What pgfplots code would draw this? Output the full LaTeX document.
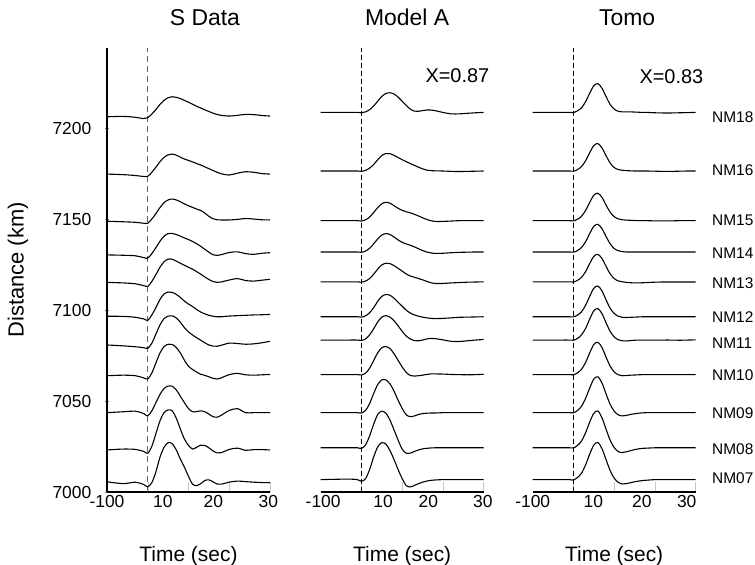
\documentclass[border=0pt]{standalone}
\usepackage{fontspec}
\setmainfont{Liberation Sans}
\usepackage{pgfplots}
\usepackage{pgfplotstable}
\pgfplotsset{compat=1.18}

\newcommand{\fs}[1]{\fontsize{#1}{#1}\selectfont}

% S data (amplitude in km above each trace baseline)
\pgfplotstableread{
t    a18  a16  a15  a14  a13  a12  a11  a10  a09  a08  a07
-10  0    0    0.3  0.5  0.5  0.3  1    0    0    0    0.5
-6   0.2  -0.3 0    0.3  0.2  0.2  0.5  0.3  0.5  0.5  -0.5
-3   -0.3 -0.8 -0.3 0    -0.3 -0.3 0    0    0.8  0.3  0.3
-1   -1.0 -1.3 -0.8 -1.0 -1.3 -1.2 -0.5 -1.2 -0.5 -0.8 -1
0    -0.5 -1.2 -0.8 -1.3 -1.7 -2.0 -0.8 -1.8 -1.8 -1.8 -2.2
1    1.5  1    1.5  1.2  1    1    2    1.5  1    2    0
2    4    3.8  4.5  4.5  4.8  5    7    7    5.5  9    6
3    6.8  6.8  7.8  8    8.8  9.5  12   12.5 10   16   14
4    9    9.2  10.5 10.8 11.8 12.5 15.5 16   13.3 20.5 19.5
5    10.5 10.6 12   12.2 13.3 13.6 16.8 17.3 14.6 22   22
6    11   11   12.5 12.3 13.2 13.4 17   17.2 14.5 21.5 21.5
7    10.7 10.4 12.0 11.7 12.2 12.3 15.8 15.5 12.5 17.5 18
8    10   9.3  11   10.8 11   10.6 13.5 12.5 9    11.5 13
9    9    8.3  9.8  9.8  9.9  8.6  10.5 8.5  5.5  6    8.5
10   8    7.5  8.8  8.9  8.8  7.0  8.2  5.2  2.2  2.5  3.5
11   6.9  6.7  7.9  7.9  7.7  5.6  6.5  3.4  0.5  0.5  -0.8
12   5.8  5.8  7.0  6.6  6.4  4.0  5    2.0  0.6  1.5  -1.6
13   4.8  5.0  6.2  5.2  5.0  2.6  3.6  0.8  1.0  2.6  -0.5
14   3.8  4.0  4.8  3.6  3.5  1.6  2.2  0.2  0.5  2.5  1.2
15   2.9  3.0  3.0  2    2.1  0.8  1.0  -0.6 -0.8 1.2  1.6
16   2.0  2.0  1.7  0.6  1.0  0.3  0.4  -1.4 -2.2 -0.5 0.5
17   1.3  1.0  1.1  0.2  0.5  0    0.3  -1.8 -2.5 -1.6 -0.7
18   0.8  0.2  1.0  0.6  0.7  0    0.8  -1.2 -1.5 -1.5 -0.8
20   0.4  -0.5 1.0  1.8  1.8  0.4  2.0  0.6  1.2  0.3  0.3
22   0.8  0.5  1.3  2.2  2.6  0.6  1.8  1.3  2.2  1.0  0.9
24   1.3  1.3  1.8  1.2  1.5  0.8  1.4  0.5  0    -0.2 0.6
26   1.2  1.0  1.5  0.8  1.2  1.0  1.6  0.3  0    0.2  0.3
28   0.7  0.3  1.1  1.4  1.7  1.1  2.2  0.5  0    0.2  0.1
30   0.4  0    1.0  1.7  2.2  1.3  3.0  0.7  0    0    0
}\sdata

% Model A
\pgfplotstableread{
t    a18  a16  a15  a14  a13  a12  a11  a10  a09  a08  a07
-10  0    0    0    0    0    0    0    0    0    0    0
-6   0    0    0    0    0    0    0    0    0    0    0.2
-3   0    0    0    0    0    0    0    0    0    0    0.3
-1   0    0    0    0    0    0    0    0    0    0    0
0    -0.2 -0.2 -0.2 -0.2 -0.2 -0.2 -0.2 -0.2 -0.2 -0.3 -0.9
1    0.3  0.3  0.5  0.5  0.4  0.5  0.6  0.8  1.2  1.5  0.5
2    1.5  1.6  2    2    1.8  2.2  2.8  3.5  5    6.5  5.5
3    3.5  3.6  4.5  4.5  4.2  5    6.2  7.8  10.5 13   12.5
4    6.2  6.2  7.2  7.2  7    8.5  10   12   15.5 18.3 18
5    8.8  8.5  9.3  9.3  9.3  11.2 12.6 14.8 18   20.1 20.3
6    10.4 9.6  10.1 10.1 10.2 12.2 13.4 15.4 18   19   19.5
7    10.8 9.5  9.6  9.6  10   11.8 12.6 14.3 15.8 15.2 16
8    10.1 8.6  8.2  8.2  8.9  10.2 10.6 11.5 11.8 9.8  11
9    8.4  7.4  6.8  6.6  7.4  8    7.8  7.8  6.8  4.2  5.5
10   6.1  6.2  5.7  5.3  5.9  5.8  4.8  4.2  2.3  -0.8 0.5
11   3.8  5.1  4.9  4.4  4.3  3.6  2.2  1.2  -1.2 -3.0 -3.3
12   1.8  4.1  4.3  3.7  3.2  2    0.6  -0.5 -2.2 -2.9 -4.0
13   0.7  3.1  3.5  2.8  2.5  1    -0.3 -0.8 -1.8 -2.0 -3.2
14   0.6  2.1  2.6  1.8  1.8  0.3  -0.4 -0.6 -1.0 -1.2 -2.2
15   1.0  1.2  1.6  0.8  1.1  -0.2 0    -0.3 -0.5 -0.6 -1.4
16   1.3  0.5  0.7  0    0.3  -0.6 0.6  0.1  -0.3 -0.3 -0.8
17   1.3  0.2  0    -0.5 -0.5 -0.9 0.9  0.4  -0.2 -0.1 -0.4
18   1.0  0.1  -0.4 -0.8 -0.9 -1.0 0.8  0.4  -0.2 0    -0.2
20   0    0    -0.4 -0.7 -0.9 -0.9 0.1  0.3  0    0    0
22   -0.8 -0.2 -0.2 -0.4 -0.6 -0.6 -0.7 0.1  0    0    0
24   -0.8 -0.3 0    -0.2 -0.4 -0.3 -0.8 0    0    0    0
26   -0.5 -0.2 0    -0.1 -0.2 -0.2 -0.4 -0.1 0    0    0
28   -0.2 -0.1 0    0    -0.1 -0.1 0    0    0    0    0
30   0    0    0    0    0    0    0.3  0.2  0    0    0
}\mdata

% Tomo
\pgfplotstableread{
t    a18  a16  a15  a14  a13  a12  a11  a10  a09  a08  a07
-10  0    0    0    0    0    0    0    0    0    0    0
-6   0    0    0    0    0    0    0    0    0    0    0
-3   0    0    0    0    0    0    0    0    0    0    0
-1   0    0    0    0    0    0    0    0    0    0    0
0    -0.1 -0.1 -0.1 -0.1 -0.1 -0.1 -0.1 -0.1 -0.1 -0.1 -0.2
1    0.9  0.8  0.8  0.8  0.8  0.9  0.9  1.0  1.2  1.3  1.2
2    2.6  2.5  2.5  2.5  2.5  2.8  2.9  3.0  3.6  3.8  3.6
3    6.0  5.7  5.7  5.7  5.7  6.4  6.5  6.8  8.0  8.4  8.2
4    10.6 10.1 10.1 10.2 10.1 11.3 11.6 12.0 13.6 14.2 14.1
5    14.7 14.0 14.0 14.1 14.0 15.7 16.1 16.6 18.5 19.0 19.0
6    15.8 15.1 15.1 15.2 15.1 16.9 17.3 17.8 19.7 20.2 20.4
7    13.3 12.7 12.8 12.8 12.8 14.2 14.5 14.9 16.3 16.5 17.0
8    8.7  8.4  8.6  8.5  8.5  9.3  9.5  9.6  10.3 10.2 11.0
9    4.4  4.4  4.7  4.5  4.4  4.7  4.8  4.7  4.6  4.2  5.0
10   1.8  1.9  2.2  1.9  1.8  1.8  1.7  1.5  0.8  0.1  0.8
11   0.6  0.8  1.0  0.7  0.5  0.3  0.2  -0.1 -1.2 -2.1 -1.5
12   0.3  0.4  0.5  0.2  0    -0.3 -0.4 -0.6 -1.8 -2.6 -2.4
13   0.3  0.2  0.3  0    -0.3 -0.4 -0.5 -0.5 -1.5 -2.2 -2.2
14   0.3  0.1  0.2  0    -0.5 -0.3 -0.3 -0.3 -1.0 -1.6 -1.7
15   0.2  0    0.1  0    -0.6 -0.2 -0.1 -0.2 -0.6 -1.0 -1.2
16   0.1  0    0    0    -0.6 -0.1 0    -0.1 -0.3 -0.6 -0.8
17   0    0    0    0    -0.5 0    0    0    -0.1 -0.3 -0.5
18   0    0    0    0    -0.4 0    0    0    0    -0.2 -0.3
20   -0.2 -0.1 -0.1 0    -0.2 0    0    0    0    0    0
22   -0.3 -0.2 -0.1 0    -0.1 0    0    0    0    0    0
24   -0.3 -0.2 -0.1 0    -0.1 0    0    0    0    0    0
26   -0.2 -0.1 0    0    -0.1 0    -0.1 0    0    0    0
28   -0.1 0    0    0    -0.1 0    0    0    0    0    0
30   0    0    0    0    -0.1 0    0.1  0    0    0    0
}\tdata

\pgfplotsset{
  trace/.style={black, line width=1.1bp, smooth, no markers},
  panel/.style={
    scale only axis, width=163bp, height=444bp,
    xmin=-10, xmax=30, ymin=7000, ymax=7244,
    axis x line=bottom,
    axis line style={-, line width=1.6bp},
    clip=false,
    tick align=inside,
    major x tick style={draw=none},
    minor xtick={0,10,20,30},
    minor tick length=10bp,
    minor x tick style={black!22, line width=0.5bp},
    major tick length=3bp,
    xticklabel style={font=\fs{17.5}, inner sep=0pt, anchor=north, yshift=-3bp},
    xlabel={Time (sec)},
    xlabel style={font=\fs{21}, at={(axis description cs:0.5,0)}, anchor=base, yshift=-69bp},
  },
}

\newcommand{\tr}[3]{\addplot[trace] table[x=t, y expr=\thisrow{#2}+#3] {#1};}

\begin{document}
\begin{tikzpicture}
\useasboundingbox (0,0) rectangle (755bp,565bp);

% ---------- S Data ----------
\begin{axis}[panel,
  at={(107bp,73bp)}, anchor=south west,
  axis y line=left,
  axis line style={-, line width=1.6bp},
  xtick={-10,3.7,16.1,29.6}, xticklabels={-100,10,20,30},
  ytick={7000,7050,7100,7150,7200}, yticklabels={7000,7050,7100,7150,7200},
  yticklabel style={font=\fs{17.5}, inner sep=0pt, anchor=east, xshift=-14bp},
  title={S Data},
  title style={font=\fs{23}, at={(axis description cs:0.601,1)}, anchor=base, yshift=16.3bp},
  ylabel={Distance (km)},
  ylabel style={font=\fs{22}, at={(axis description cs:-0.511,0.5)}, anchor=base},
]
\addplot[black!60, line width=1.2bp, dash pattern=on 6bp off 4bp] coordinates {(0,7000) (0,7244)};
\tr{\sdata}{a18}{7206.2}
\tr{\sdata}{a16}{7174.7}
\tr{\sdata}{a15}{7148.5}
\tr{\sdata}{a14}{7129.8}
\tr{\sdata}{a13}{7114.7}
\tr{\sdata}{a12}{7096.3}
\tr{\sdata}{a11}{7079.8}
\tr{\sdata}{a10}{7063.9}
\tr{\sdata}{a09}{7043.6}
\tr{\sdata}{a08}{7023.1}
\tr{\sdata}{a07}{7005.1}
\end{axis}

% ---------- Model A ----------
\begin{axis}[panel,
  at={(320.7bp,73bp)}, anchor=south west,
  axis y line=none, ytick=\empty,
  xtick={-9.4,5.3,16.4,29.8}, xticklabels={-100,10,20,30},
  title={Model A},
  title style={font=\fs{23}, at={(axis description cs:0.53,1)}, anchor=base, yshift=16.3bp},
]
\addplot[black, line width=0.7bp, dash pattern=on 5bp off 3bp] coordinates {(0,7000) (0,7244)};
\tr{\mdata}{a18}{7208.6}
\tr{\mdata}{a16}{7176.4}
\tr{\mdata}{a15}{7149.1}
\tr{\mdata}{a14}{7131.9}
\tr{\mdata}{a13}{7115.5}
\tr{\mdata}{a12}{7096.3}
\tr{\mdata}{a11}{7083.5}
\tr{\mdata}{a10}{7064.5}
\tr{\mdata}{a09}{7043.6}
\tr{\mdata}{a08}{7024.3}
\tr{\mdata}{a07}{7006.8}
\node[anchor=base east, font=\fs{20}, inner sep=0pt] at (axis cs:31.4,7224.9) {X=0.87};
\end{axis}

% ---------- Tomo ----------
\begin{axis}[panel,
  at={(532.7bp,73bp)}, anchor=south west,
  axis y line=none, ytick=\empty,
  xtick={-10,4.9,16.8,27.8}, xticklabels={-100,10,20,30},
  title={Tomo},
  title style={font=\fs{23}, at={(axis description cs:0.579,1)}, anchor=base, yshift=16.3bp},
]
\addplot[black, line width=0.7bp, dash pattern=on 5bp off 3bp] coordinates {(0,7000) (0,7244)};
\tr{\tdata}{a18}{7208.6}
\tr{\tdata}{a16}{7176.4}
\tr{\tdata}{a15}{7149.1}
\tr{\tdata}{a14}{7131.9}
\tr{\tdata}{a13}{7115.5}
\tr{\tdata}{a12}{7096.3}
\tr{\tdata}{a11}{7083.5}
\tr{\tdata}{a10}{7064.5}
\tr{\tdata}{a09}{7043.6}
\tr{\tdata}{a08}{7024.3}
\tr{\tdata}{a07}{7006.8}
\node[anchor=base east, font=\fs{20}, inner sep=0pt] at (axis cs:31.9,7224.6) {X=0.83};
\begin{scope}[every node/.style={anchor=west, font=\fs{15.5}, inner sep=0pt}]
\node at (axis cs:34,7206.2) {NM18};
\node at (axis cs:34,7176.9) {NM16};
\node at (axis cs:34,7149.3) {NM15};
\node at (axis cs:34,7131.2) {NM14};
\node at (axis cs:34,7114.7) {NM13};
\node at (axis cs:34,7096.0) {NM12};
\node at (axis cs:34,7081.7) {NM11};
\node at (axis cs:34,7064.3) {NM10};
\node at (axis cs:34,7043.2) {NM09};
\node at (axis cs:34,7023.5) {NM08};
\node at (axis cs:34,7007.5) {NM07};
\end{scope}
\end{axis}
\end{tikzpicture}
\end{document}
